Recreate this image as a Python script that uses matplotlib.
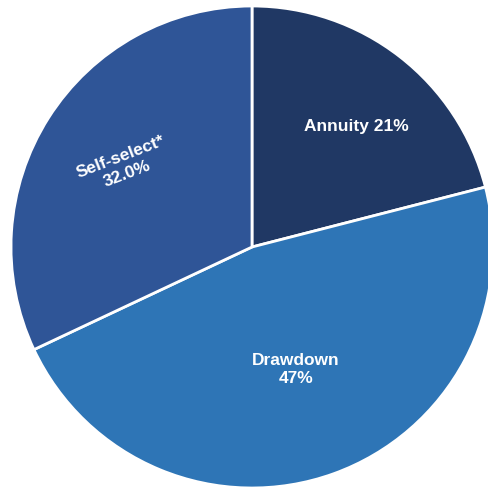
import numpy as np
import matplotlib
matplotlib.use("Agg")
import matplotlib.pyplot as plt

# pension access choices
labels = ["Annuity 21%", "Drawdown\n47%", "Self-select*\n32.0%"]
shares = [21.0, 47.0, 32.0]
colors = ["#203864", "#2e75b6", "#2f5597"]

fig = plt.figure(figsize=(4.88, 4.90), dpi=100)
ax = fig.add_axes([0, 0, 1, 1])

wedges, _ = ax.pie(shares, colors=colors, startangle=90, counterclock=False,
                   center=(252, 243), radius=241,
                   wedgeprops=dict(edgecolor="white", linewidth=2))

# label distance (fraction of radius), angle shift and rotation per slice
dist = [0.66, 0.54, 0.63]
shift = [-3, 0, 0]
rot = [0, 0, 21]
for w, lab, d, s, r in zip(wedges, labels, dist, shift, rot):
    mid = np.deg2rad((w.theta1 + w.theta2) / 2 + s)
    x = 252 + d * 241 * np.cos(mid)
    y = 243 + d * 241 * np.sin(mid)
    ax.text(x, y, lab, ha="center", va="center", color="white",
            fontsize=12.5, fontweight="bold", family="Liberation Sans",
            rotation=r, linespacing=1.3)

ax.set_xlim(0, 488)
ax.set_ylim(0, 490)
ax.set_aspect("equal")
ax.axis("off")

fig.savefig("out.png", dpi=100)
